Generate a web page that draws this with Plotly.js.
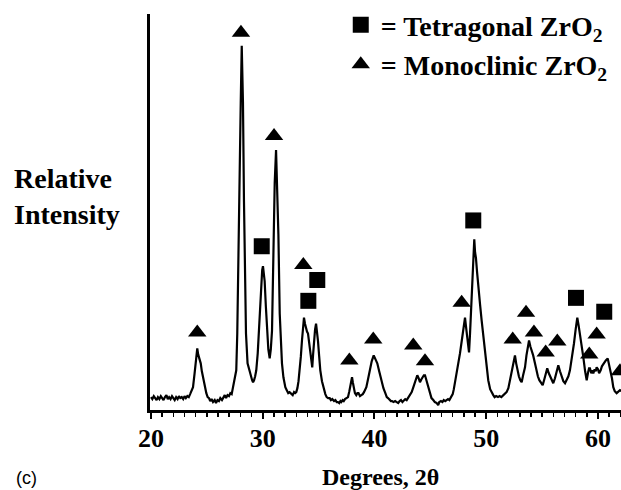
<!DOCTYPE html>
<html>
<head>
<meta charset="utf-8">
<script src="https://cdn.plot.ly/plotly-3.0.1.min.js"></script>
<style>html,body{margin:0;padding:0;background:#fff;}#chart{width:621px;height:490px;}</style>
</head>
<body>
<div id="chart"></div>
<script>
// XRD pattern (degrees 2-theta vs relative intensity, arbitrary units)
var twoTheta = [20.0,20.12,20.25,20.38,20.5,20.62,20.75,20.88,21.0,21.12,21.25,21.38,21.5,21.62,21.75,21.88,22.0,22.12,22.25,22.38,22.5,22.62,22.75,22.88,23.0,23.12,23.25,23.38,23.5,23.62,
23.76,23.9,24.02,24.14,24.22,24.30,24.38,24.45,24.55,24.65,24.8,24.95,25.07,25.19,25.3,25.42,25.55,25.7,25.82,25.95,26.08,26.2,26.35,26.48,26.6,26.72,26.85,26.98,27.1,27.22,27.34,27.5,27.63,27.72,27.82,27.90,28.03,28.12,28.23,28.32,28.40,28.50,28.64,28.75,28.83,28.95,29.05,29.13,29.22,29.32,29.42,29.55,29.66,29.77,29.87,29.95,30.02,30.1,30.17,30.28,30.38,30.5,30.62,30.72,30.83,30.95,31.07,31.19,31.31,31.40,31.52,31.62,31.72,31.85,32.02,32.15,32.28,32.4,32.55,32.68,32.8,32.9,33.0,33.1,33.2,33.31,33.41,33.51,33.6,33.69,33.78,33.87,33.96,34.05,34.17,34.29,34.36,34.43,34.5,34.59,34.68,34.77,34.86,34.94,35.05,35.15,35.3,35.48,35.6,35.72,35.85,35.99,36.1,36.22,36.38,36.5,36.62,36.73,36.85,36.95,37.03,37.15,37.25,37.36,37.5,37.63,37.75,37.83,37.92,37.99,38.06,38.14,38.25,38.37,38.47,38.57,38.7,38.82,38.95,39.06,39.17,39.27,39.42,39.57,39.75,39.93,40.08,40.25,40.42,40.61,40.8,40.97,41.1,41.21,41.35,41.47,41.57,41.7,41.85,41.99,42.12,42.25,42.37,42.5,42.62,42.75,42.88,43.0,43.12,43.22,43.33,43.48,43.62,43.73,43.83,43.95,44.07,44.2,44.31,44.42,44.52,44.62,44.72,44.81,44.95,45.1,45.26,45.4,45.57,45.7,45.8,45.95,46.08,46.2,46.33,46.46,46.58,46.7,46.8,46.91,47.0,47.1,47.2,47.29,47.45,47.65,47.8,47.95,48.02,48.10,48.2,48.31,48.4,48.46,48.55,48.64,48.74,48.84,48.93,49.0,49.08,49.18,49.29,49.45,49.59,49.75,49.89,50.05,50.18,50.35,50.5,50.63,50.75,50.88,51.05,51.2,51.35,51.53,51.68,51.82,51.98,52.1,52.2,52.28,52.4,52.57,52.68,52.78,52.92,53.05,53.17,53.3,53.47,53.6,53.72,53.83,53.95,54.07,54.2,54.36,54.5,54.62,54.75,54.9,55.05,55.2,55.32,55.46,55.6,55.77,55.9,56.0,56.15,56.3,56.45,56.6,56.75,56.9,57.05,57.2,57.35,57.49,57.65,57.85,58.0,58.15,58.27,58.39,58.55,58.69,58.85,58.99,59.1,59.2,59.28,59.4,59.5,59.58,59.7,59.8,59.88,60.0,60.1,60.24,60.35,60.45,60.54,60.7,60.87,61.0,61.14,61.25,61.37,61.5,61.67,61.8,61.97,62.1];
var intensity = [14,12,15,13,11,14,12,15,13,11,14,16,12,14,12,15,13,11,14,12,15,13,14,12,15,13,15,14,17,20,
24,38,52,63,57,54,50,48,40,34,24,18,14,13,10,12,9,11,8,11,10,13,11,14,16,13,16,15,18,17,24,30,41,78,140,211,311,368,311,211,140,78,48,43,41,36,31,29,31,35,41,58,81,110,131,142,146,140,131,105,81,62,53,62,81,178,230,263,220,178,98,68,48,34,24,21,18,19,17,16,19,18,19,23,30,41,55,71,85,94,88,83,80,78,68,58,50,44,56,71,82,88,80,71,55,41,30,21,17,14,13,13,11,12,10,11,9,9,8,10,9,11,10,12,13,14,20,26,31,34,29,24,18,16,18,18,15,16,17,19,21,24,32,41,50,56,52,48,40,31,23,18,14,13,11,10,10,9,10,9,8,10,11,9,10,12,11,13,15,17,19,24,29,34,36,33,29,32,34,36,36,32,27,23,17,13,11,9,8,6,9,10,9,11,10,11,12,11,13,14,17,22,28,34,45,58,70,81,88,94,84,74,63,59,78,101,128,151,173,160,154,140,124,107,91,74,58,42,31,22,18,16,14,15,14,15,14,16,18,19,23,30,37,41,50,56,48,41,35,31,29,36,44,56,66,71,65,61,56,48,40,35,31,28,26,32,38,43,38,34,30,28,33,40,46,40,34,30,28,31,35,41,52,68,82,94,86,78,66,54,40,31,38,43,43,38,41,38,42,40,44,42,38,41,45,47,49,51,53,47,41,33,24,20,18,19,21,20];

// Peak assignments (marker positions)
var tetraX = [29.91, 34.08, 34.88, 48.84, 58.03, 60.56];
var tetraY = [166, 111, 132, 192, 114, 100];
var monoX = [24.14, 28.05, 31.01, 33.63, 37.75, 39.89, 43.47, 44.52, 47.80, 52.37, 53.56, 54.27, 55.32, 56.36, 59.22, 59.88, 61.97];
var monoY = [79, 381, 277, 147, 51, 72, 66, 50, 109, 72, 99, 79, 59, 70, 57, 77, 40];

var xTickVals = [20, 30, 40, 50, 60];
var xTickText = ['20', '30', '40', '50', '60'];

var serifBold = {family: 'Liberation Serif, Times New Roman, serif', color: '#000', weight: 'bold'};
function f(size) { return Object.assign({}, serifBold, {size: size}); }

var data = [
  {x: twoTheta, y: intensity, type: 'scatter', mode: 'lines', line: {color: '#000', width: 2.2}, showlegend: false, hoverinfo: 'skip'},
  {x: tetraX, y: tetraY, type: 'scatter', mode: 'markers', name: '= Tetragonal ZrO<sub>2</sub>',
   marker: {symbol: 'square', size: 16, color: '#000'}},
  {x: monoX, y: monoY, type: 'scatter', mode: 'markers', name: '= Monoclinic ZrO<sub>2</sub>',
   marker: {symbol: 'triangle-up', size: 16, color: '#000'}}
];

var layout = {
  width: 621, height: 490,
  margin: {l: 150, r: 0, t: 11, b: 80, pad: 0},
  paper_bgcolor: '#fff', plot_bgcolor: '#fff',
  showlegend: true,
  legend: {x: 0.405, y: 1.035, xanchor: 'left', yanchor: 'top', bgcolor: 'rgba(0,0,0,0)', font: f(28), tracegroupgap: 0, itemsizing: 'trace'},
  xaxis: {
    range: [19.91, 62.06], showline: true, linecolor: '#000', linewidth: 3,
    ticks: 'outside', ticklen: 6, tickwidth: 2, tickcolor: '#000',
    tickvals: xTickVals, ticktext: xTickText, tickfont: f(26), ticklabelstandoff: -3,
    minor: {dtick: 1, tick0: 0, ticks: 'outside', ticklen: 4, tickwidth: 1.5, tickcolor: '#000', showgrid: false},
    showgrid: false, zeroline: false, fixedrange: true
  },
  yaxis: {
    range: [1, 400], showline: true, linecolor: '#000', linewidth: 3,
    ticks: '', showticklabels: false, showgrid: false, zeroline: false, fixedrange: true
  },
  annotations: [
    {text: 'Relative<br>Intensity', xref: 'paper', yref: 'paper', x: -0.292, y: 0.54, xanchor: 'left', yanchor: 'middle', align: 'left', showarrow: false, font: f(28)},
    {text: 'Degrees, 2θ', xref: 'paper', yref: 'paper', x: 0.489, y: -0.17, xanchor: 'center', yanchor: 'middle', showarrow: false, font: f(24)},
    {text: '(c)', xref: 'paper', yref: 'paper', x: -0.288, y: -0.172, xanchor: 'left', yanchor: 'middle', showarrow: false,
     font: {family: 'Liberation Sans, Arial, sans-serif', size: 18, color: '#000'}}
  ]
};

Plotly.newPlot('chart', data, layout, {displayModeBar: false, staticPlot: true});
</script>
</body>
</html>
